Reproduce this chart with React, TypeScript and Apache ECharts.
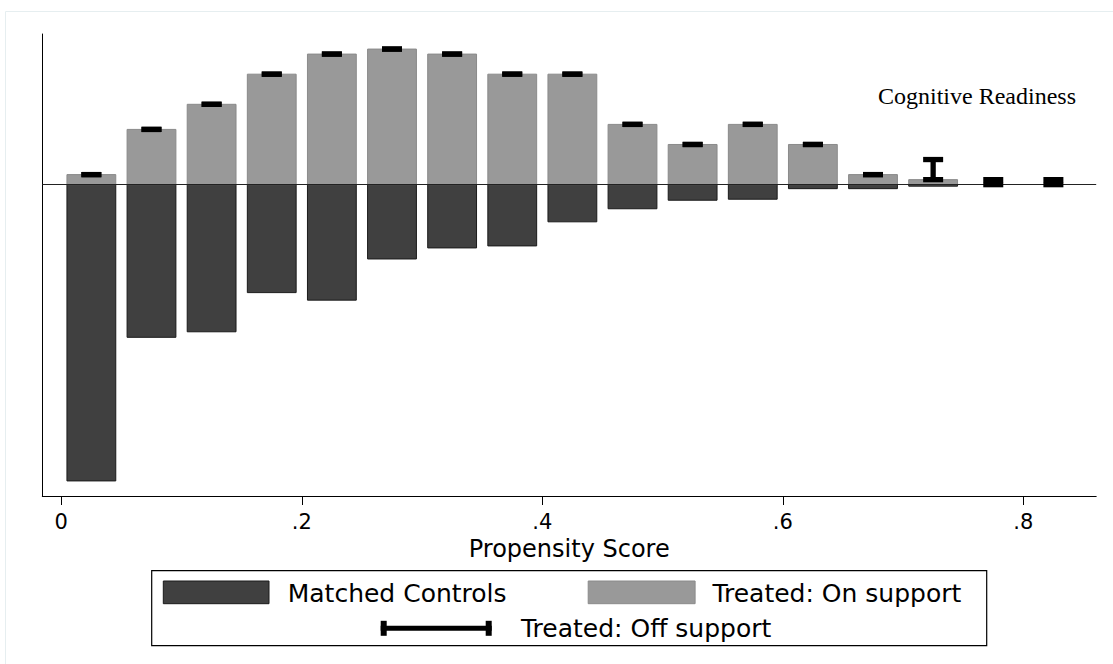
import React, { useEffect, useRef } from "react";
import * as echarts from "echarts";

// ---- data ----
const binCenters = [0.025, 0.075, 0.125, 0.175, 0.225, 0.275, 0.325, 0.375, 0.425, 0.475, 0.525, 0.575, 0.625, 0.675, 0.725, 0.775, 0.825];
const treatedOnSupport = [2, 11, 16, 22, 26, 27, 26, 22, 22, 12, 8, 12, 8, 2, 1, 0, 0];
const treatedOffSupport = [0, 0, 0, 0, 0, 0, 0, 0, 0, 0, 0, 0, 0, 0, 4, 1, 1];
const matchedControls = [-59, -30.4, -29.3, -21.5, -23, -14.8, -12.6, -12.2, -7.4, -4.8, -3.1, -2.9, -0.8, -0.8, -0.3, 0, 0];
const xTickValues = [0, 0.2, 0.4, 0.6, 0.8];
const xTickLabels = ["0", ".2", ".4", ".6", ".8"];
const legendLabels = ["Matched Controls", "Treated: On support", "Treated: Off support"];
const xAxisTitle = "Propensity Score";
const panelTitle = "Cognitive Readiness";

// ---- style constants ----
const BAR_HALF = 0.0203;
const CAP_W = 20;
const CAP_T = 5.3;
const DARK = "#404040";
const LIGHT = "#999999";
const SANS = "DejaVu Sans";

export default function App() {
  const ref = useRef<HTMLDivElement>(null);
  useEffect(() => {
    if (!ref.current) return;
    const chart = echarts.init(ref.current, null, { renderer: "svg" });

    const barRender = (fill: string, stroke: string) => (params: any, api: any) => {
      const x = api.value(0);
      const y = api.value(1);
      if (!y) return null;
      const p0 = api.coord([x - BAR_HALF, 0]);
      const p1 = api.coord([x + BAR_HALF, y]);
      return {
        type: "rect",
        shape: { x: p0[0], y: Math.min(p0[1], p1[1]), width: p1[0] - p0[0], height: Math.abs(p1[1] - p0[1]) },
        style: { fill, stroke, lineWidth: 1 },
      };
    };

    const capRender = (params: any, api: any) => {
      const x = api.value(0);
      const lo = api.value(1);
      const hi = api.value(2);
      const a = api.coord([x, lo]);
      const b = api.coord([x, hi]);
      const children: any[] = [
        { type: "rect", shape: { x: a[0] - CAP_W / 2, y: a[1] - CAP_T / 2, width: CAP_W, height: CAP_T }, style: { fill: "#000" } },
        { type: "rect", shape: { x: b[0] - CAP_W / 2, y: b[1] - CAP_T / 2, width: CAP_W, height: CAP_T }, style: { fill: "#000" } },
      ];
      if (Math.abs(a[1] - b[1]) > 0.5) {
        children.push({ type: "rect", shape: { x: a[0] - CAP_T / 2, y: Math.min(a[1], b[1]), width: CAP_T, height: Math.abs(a[1] - b[1]) }, style: { fill: "#000" } });
      }
      return { type: "group", children };
    };

    const legendFont = { fontFamily: SANS, fontSize: 25, fill: "#000" };

    chart.setOption({
      animation: false,
      backgroundColor: "#ffffff",
      title: {
        text: panelTitle,
        left: 878,
        top: 84,
        padding: 0,
        textStyle: { fontFamily: "Liberation Serif", fontSize: 24, fontWeight: "normal", color: "#000" },
      },
      grid: { left: 42.3, right: 16.8, top: 34, bottom: 168, containLabel: false },
      xAxis: {
        type: "value",
        min: -0.0158,
        max: 0.8606,
        splitLine: { show: false },
        axisLine: { show: true, onZero: false, lineStyle: { color: "#000", width: 1 } },
        axisTick: { show: true, length: 9, lineStyle: { color: "#000" }, customValues: xTickValues },
        axisLabel: {
          show: true,
          customValues: xTickValues,
          margin: 15,
          fontFamily: SANS,
          fontSize: 21,
          color: "#000",
          formatter: (v: number) => {
            const i = xTickValues.findIndex((t) => Math.abs(t - v) < 1e-6);
            return i >= 0 ? xTickLabels[i] : "";
          },
        },
        name: xAxisTitle,
        nameLocation: "middle",
        nameGap: 38,
        nameTextStyle: { fontFamily: SANS, fontSize: 24, color: "#000" },
      },
      yAxis: {
        type: "value",
        min: -62,
        max: 30,
        splitLine: { show: false },
        axisLine: { show: true, onZero: false, lineStyle: { color: "#000", width: 1 } },
        axisTick: { show: false },
        axisLabel: { show: false },
      },
      series: [
        {
          type: "custom",
          name: legendLabels[0],
          z: 2,
          renderItem: barRender(DARK, "#1a1a1a"),
          data: binCenters.map((x, i) => [x, matchedControls[i]]),
        },
        {
          type: "custom",
          name: legendLabels[1],
          z: 2,
          renderItem: barRender(LIGHT, "#8a8a8a"),
          data: binCenters.map((x, i) => [x, treatedOnSupport[i]]),
          markLine: {
            silent: true,
            symbol: "none",
            z: 3,
            label: { show: false },
            lineStyle: { color: "#222", width: 1, type: "solid" },
            data: [{ yAxis: 0 }],
          },
        },
        {
          type: "custom",
          name: legendLabels[2],
          z: 5,
          renderItem: capRender,
          data: binCenters.map((x, i) => [x, treatedOnSupport[i], treatedOnSupport[i] + treatedOffSupport[i]]),
        },
      ],
      graphic: [
        { type: "rect", shape: { x: 5.5, y: 11.5, width: 1120, height: 700 }, style: { fill: "none", stroke: "#e6eef0", lineWidth: 1 }, silent: true },
        { type: "rect", shape: { x: 151.7, y: 570.7, width: 835, height: 75 }, style: { fill: "none", stroke: "#000", lineWidth: 1.2 } },
        { type: "rect", shape: { x: 163.3, y: 581, width: 105.7, height: 22.7 }, style: { fill: DARK, stroke: "#1a1a1a", lineWidth: 1 } },
        { type: "text", x: 287.7, y: 593, style: { ...legendFont, text: legendLabels[0], verticalAlign: "middle" } },
        { type: "rect", shape: { x: 588.2, y: 581, width: 106.9, height: 22.7 }, style: { fill: LIGHT, stroke: "#8a8a8a", lineWidth: 1 } },
        { type: "text", x: 712.4, y: 593, style: { ...legendFont, text: legendLabels[1], verticalAlign: "middle" } },
        { type: "rect", shape: { x: 380.7, y: 625.8, width: 111, height: 5 }, style: { fill: "#000" } },
        { type: "rect", shape: { x: 380.7, y: 620.8, width: 6, height: 15 }, style: { fill: "#000" } },
        { type: "rect", shape: { x: 485.7, y: 620.8, width: 6, height: 15 }, style: { fill: "#000" } },
        { type: "text", x: 521, y: 628, style: { ...legendFont, text: legendLabels[2], verticalAlign: "middle" } },
      ],
    });

    return () => chart.dispose();
  }, []);

  return <div ref={ref} style={{ position: "absolute", left: 0, top: 0, width: 1113, height: 664, background: "#fff" }} />;
}
